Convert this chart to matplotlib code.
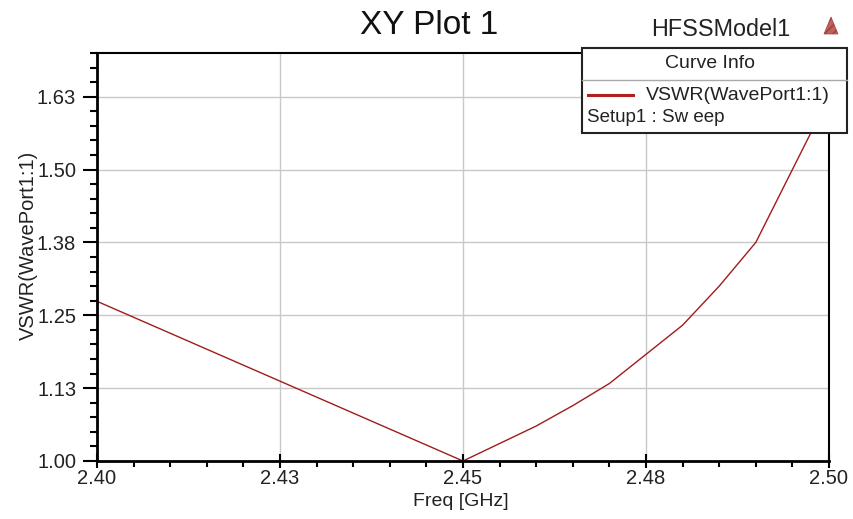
import matplotlib
matplotlib.use("Agg")
import matplotlib.pyplot as plt
from matplotlib.patches import Rectangle, Polygon
from matplotlib.lines import Line2D
from matplotlib.ticker import MultipleLocator

plt.rcParams["font.family"] = ["Liberation Sans", "DejaVu Sans"]

# VSWR sweep
freq = [2.40, 2.45, 2.455, 2.46, 2.465, 2.47, 2.475, 2.48, 2.485, 2.49, 2.495, 2.50]
vswr = [1.274, 1.00, 1.03, 1.06, 1.095, 1.133, 1.183, 1.233, 1.300, 1.375, 1.500, 1.625]

xticks = [2.40, 2.425, 2.45, 2.475, 2.50]
xlabels = ["2.40", "2.43", "2.45", "2.48", "2.50"]
yticks = [1.00, 1.125, 1.25, 1.375, 1.50, 1.625]
ylabels = ["1.00", "1.13", "1.25", "1.38", "1.50", "1.63"]

line_color = "#9e1c1c"
text_color = "#222222"

fig = plt.figure(figsize=(8.54, 5.19), dpi=100)
ax = fig.add_axes([97 / 854, 1 - 461 / 519, (829 - 97) / 854, (461 - 53) / 519])

ax.plot(freq, vswr, color=line_color, lw=1.0)

ax.set_xlim(2.40, 2.50)
ax.set_ylim(1.00, 1.70)
ax.set_xticks(xticks)
ax.set_xticklabels(xlabels)
ax.set_yticks(yticks)
ax.set_yticklabels(ylabels)
ax.xaxis.set_minor_locator(MultipleLocator(0.005))
ax.yaxis.set_minor_locator(MultipleLocator(0.025))

ax.grid(True, which="major", color="#c8c8c8", lw=1.0)
ax.set_axisbelow(True)

for s in ["left", "bottom"]:
    ax.spines[s].set_linewidth(2.0)
for s in ["top", "right"]:
    ax.spines[s].set_linewidth(1.5)

ax.tick_params(axis="y", which="major", direction="out", length=10, width=1.5,
               labelsize=14.5, pad=5, labelcolor=text_color)
ax.tick_params(axis="y", which="minor", direction="out", length=5, width=1.5)
ax.tick_params(axis="x", which="major", direction="inout", length=10, width=1.5,
               labelsize=14.5, pad=1, labelcolor=text_color)
ax.tick_params(axis="x", which="minor", direction="out", length=4, width=1.5)

ax.set_xlabel("Freq [GHz]", fontsize=14, color=text_color)
ax.xaxis.set_label_coords((461 - 97) / 732, -(501 - 461) / 408)
ax.xaxis.label.set_va("center")
ax.set_ylabel("VSWR(WavePort1:1)", fontsize=14.5, color=text_color)
ax.yaxis.set_label_coords((28 - 97) / 732, (461 - 245) / 408)
ax.yaxis.label.set_va("center")

fig.text(429 / 854, 1 - 25 / 519, "XY Plot 1", fontsize=24, ha="center", va="center",
         color="#111111")
fig.text(721 / 854, 1 - 30 / 519, "HFSSModel1", fontsize=16.8, ha="center", va="center",
         color=text_color)

# small HFSS icon
fig.patches.append(Polygon([[824 / 854, 1 - 34 / 519], [838 / 854, 1 - 34 / 519],
                            [831 / 854, 1 - 17 / 519]], closed=True,
                           transform=fig.transFigure, facecolor="#c0605a",
                           edgecolor="#a04040", hatch="////", lw=0.5))

# Curve Info box
bx0, bx1 = 582 / 854, 847 / 854
by0, by1 = 1 - 133 / 519, 1 - 48 / 519
fig.patches.append(Rectangle((bx0, by0), bx1 - bx0, by1 - by0, transform=fig.transFigure,
                             facecolor="white", edgecolor="#222222", lw=1.5, zorder=5))
sep = 1 - 80 / 519
fig.lines.append(Line2D([bx0, bx1], [sep, sep], transform=fig.transFigure,
                        color="#aaaaaa", lw=1.0, zorder=6))
fig.text(710 / 854, 1 - 63 / 519, "Curve Info", fontsize=14, ha="center",
         va="center", color=text_color, zorder=7)
fig.lines.append(Line2D([588 / 854, 633 / 854], [1 - 95 / 519, 1 - 95 / 519],
                        transform=fig.transFigure, color="#b02020", lw=2.2, zorder=7))
fig.text(646 / 854, 1 - 95 / 519, "VSWR(WavePort1:1)", fontsize=14, ha="left",
         va="center", color=text_color, zorder=7)
fig.text(587 / 854, 1 - 117 / 519, "Setup1 : Sw eep", fontsize=13.5, ha="left",
         va="center", color=text_color, zorder=7)

fig.savefig("out.png", dpi=100, facecolor="white")
